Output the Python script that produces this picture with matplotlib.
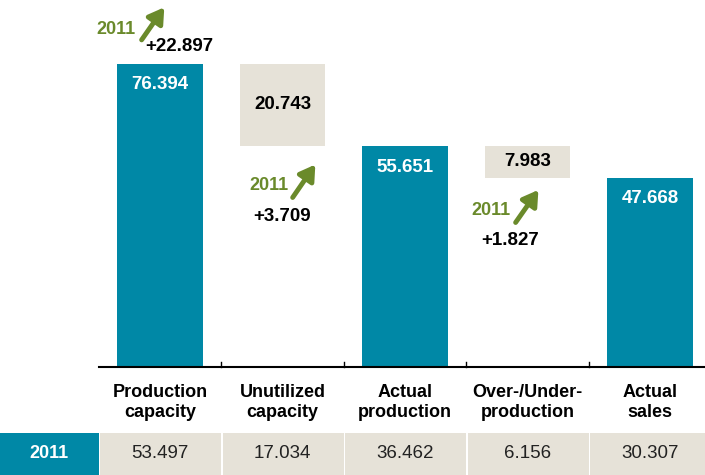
import matplotlib
matplotlib.use("Agg")
import matplotlib.pyplot as plt
from matplotlib.patches import Rectangle
import matplotlib.transforms as mtransforms

plt.rcParams['font.family'] = ['Liberation Sans', 'DejaVu Sans']

categories = ["Production\ncapacity", "Unutilized\ncapacity", "Actual\nproduction",
              "Over-/Under-\nproduction", "Actual\nsales"]
values_2012 = [76.394, 20.743, 55.651, 7.983, 47.668]
is_total = [True, False, True, False, True]
values_2011 = ["53.497", "17.034", "36.462", "6.156", "30.307"]
changes = ["+22.897", "+3.709", "+1.827"]
row_label = "2011"

TEAL = "#0088A6"
BEIGE = "#E6E2D8"
GREEN = "#6A8A2B"

W, H = 705, 475
fig = plt.figure(figsize=(W / 100, H / 100), dpi=100)

base_px = 367
ax = fig.add_axes([0, (H - base_px) / H, 1, base_px / H])
px_per_unit = 3.97
x0_px, step_px = 160, 122.5
ax.set_xlim((0 - x0_px) / step_px, (W - x0_px) / step_px)
ax.set_ylim(0, base_px / px_per_unit)
ax.axis('off')

bw = 0.70
# bars and floating boxes
for i, v in enumerate(values_2012):
    if is_total[i]:
        ax.bar(i, v, width=bw, color=TEAL, zorder=2)
        ax.text(i, v - 5.3, f"{v:.3f}", ha='center', va='center', color='white',
                fontsize=13.5, fontweight='bold', zorder=3)
    else:
        lo = values_2012[i + 1]
        hi = values_2012[i - 1]
        ax.bar(i, hi - lo, bottom=lo, width=bw, color=BEIGE, zorder=2)
        ax.text(i, (lo + hi) / 2, f"{v:.3f}", ha='center', va='center', color='black',
                fontsize=13.5, fontweight='bold', zorder=3)

# baseline and separator ticks
xl = ax.get_xlim()
ax.plot([-0.5, xl[1]], [0, 0], color='black', lw=1.5, clip_on=False, zorder=4)
for s in [0.5, 1.5, 2.5, 3.5]:
    ax.plot([s, s], [0, 1.3], color='black', lw=1.0, clip_on=False, zorder=4)

# 2011 change annotations
ann = [
    # (text2011 pos, arrow tail, arrow head, change text pos)
    ((-0.36, 85.1), (-0.15, 82.4), (0.035, 90.6), (0.155, 80.8)),
    ((0.89, 45.7), (1.083, 42.7), (1.268, 51.0), (0.996, 37.9)),
    ((2.702, 39.4), (2.903, 36.4), (3.089, 44.6), (2.857, 31.8)),
]
for (tp, tail, head, cp), ch in zip(ann, changes):
    ax.text(tp[0], tp[1], row_label, ha='center', va='center', color=GREEN,
            fontsize=13, fontweight='bold', clip_on=False)
    ax.annotate('', xy=head, xytext=tail,
                arrowprops=dict(arrowstyle='-|>,head_length=0.9,head_width=0.55',
                                lw=3.5, color=GREEN, shrinkA=0, shrinkB=0),
                annotation_clip=False)
    ax.text(cp[0], cp[1], ch, ha='center', va='center', color='black',
            fontsize=13.5, fontweight='bold', clip_on=False)

# category labels
trans = mtransforms.blended_transform_factory(ax.transData, fig.transFigure)
for i, c in enumerate(categories):
    ax.text(i, (H - 402.5) / H, c, transform=trans, ha='center', va='center',
            fontsize=13, fontweight='bold', color='black', linespacing=1.3,
            clip_on=False)

# bottom table row
tax = fig.add_axes([0, 0, 1, 42 / H])
tax.set_xlim(xl)
tax.set_ylim(0, 1)
tax.axis('off')
tax.add_patch(Rectangle((xl[0], 0), -0.5 - xl[0], 1, color=TEAL, lw=0))
tax.text((xl[0] - 0.5) / 2, 0.5, row_label, ha='center', va='center', color='white',
         fontsize=13, fontweight='bold')
for i, v in enumerate(values_2011):
    left = i - 0.5
    right = min(i + 0.5, xl[1])
    gap = 0.014
    tax.add_patch(Rectangle((left + gap, 0), right - left - gap, 1, color=BEIGE, lw=0))
    tax.text(i, 0.5, v, ha='center', va='center', color='#222222', fontsize=13.5)

fig.savefig("out.png", dpi=100)
